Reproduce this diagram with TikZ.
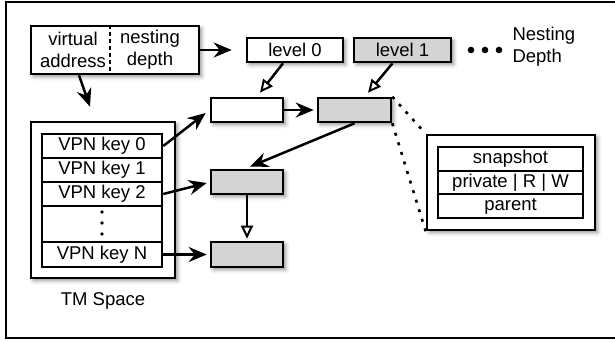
\documentclass[tikz,border=0pt]{standalone}
\usepackage{fontspec}
\setmainfont{Liberation Sans}
\usetikzlibrary{arrows.meta,shadows.blur}

\definecolor{boxgray}{HTML}{D4D4D4}

\tikzset{
  base/.style={draw, line width=2.6pt, inner sep=0pt, rectangle},
  shade/.style={blur shadow={shadow xshift=2.5pt, shadow yshift=-2.5pt,
      shadow blur radius=4pt, shadow opacity=45}},
  box/.style={base, shade, fill=white},
  graybox/.style={base, shade, fill=boxgray},
  cell/.style={base, fill=white},
  link/.style={line width=2.5pt, -{Stealth[length=18pt, width=15pt, inset=6pt]}},
  ptr/.style={line width=2.5pt, -{Triangle[open, length=13pt, width=12pt, line width=2pt]}},
  zoomline/.style={line width=2.6pt, dash pattern=on 3pt off 7pt},
  lbl/.style={font=\fontsize{18.5}{22}\selectfont, align=center},
}

\begin{document}
\begin{tikzpicture}[x=1pt, y=-1pt, lbl]
\useasboundingbox (0,0) rectangle (615,341);
\clip (0,0) rectangle (615,341);

% outer frame
\draw[line width=2.6pt] (6,2) rectangle (630,338);

% address word: virtual address | nesting depth
\node[box, minimum width=168pt, minimum height=48pt] (addr) at (115,50) {};
\draw[line width=2.4pt, dash pattern=on 4pt off 3pt]
  ([xshift=-5pt]addr.north) -- ([xshift=-5pt]addr.south);
\node (va) at (73,50) {virtual\\address};
\node (nd) at (150,50) {nesting\\depth};

% nesting levels
\node[box, minimum width=96pt, minimum height=24pt] (lvl0) at (295,50) {level 0};
\node[graybox, minimum width=97pt, minimum height=24pt] (lvl1) at (402.5,50) {level 1};
\foreach \x in {471,485,499}
  \fill (\x,50) circle (3.3pt);
\node[align=left, anchor=west] (depth) at (509,47) {Nesting\\Depth};

% per-level entries
\node[box, minimum width=72pt, minimum height=24pt] (ea) at (247,110) {};
\node[graybox, minimum width=73pt, minimum height=24pt] (eb) at (354.5,110) {};
\node[graybox, minimum width=72pt, minimum height=24pt] (ec) at (247,182) {};
\node[graybox, minimum width=72pt, minimum height=25pt] (ed) at (247,254.5) {};

% TM space table
\node[box, minimum width=144pt, minimum height=156pt] (tm) at (103,200) {};
\node[cell, minimum width=120pt, minimum height=24pt] (k0) at (102,146) {VPN key 0};
\node[cell, minimum width=120pt, minimum height=24pt] (k1) at (102,170) {VPN key 1};
\node[cell, minimum width=120pt, minimum height=24pt] (k2) at (102,194) {VPN key 2};
\node[cell, minimum width=120pt, minimum height=36pt] (kd) at (102,224) {};
\foreach \y in {212,223,234}
  \fill (102,\y) circle (1.8pt);
\node[cell, minimum width=120pt, minimum height=25pt] (kn) at (102,254.5) {VPN key N};
\node (tml) at (103,301) {TM Space};

% entry detail
\node[box, minimum width=168pt, minimum height=95pt] (det) at (511,182.5) {};
\node[cell, minimum width=145pt, minimum height=24pt] (snap) at (510.5,159) {snapshot};
\node[cell, minimum width=145pt, minimum height=23pt] (prw) at (510.5,182.5) {private | R | W};
\node[cell, minimum width=145pt, minimum height=24pt] (par) at (510.5,206) {parent};

% connectors
\draw[link] (addr.east) -- ([xshift=-14pt]lvl0.west);
\draw[link] ([xshift=-36pt]addr.south) -- ([xshift=-13pt, yshift=14pt]tm.north);
\draw[ptr] ([xshift=-12pt]lvl0.south) -- ([xshift=13pt, yshift=4pt]ea.north);
\draw[ptr] ([xshift=-10pt]lvl1.south) -- ([xshift=13.5pt, yshift=4pt]eb.north);
\draw[link] (ea.east) -- ([xshift=-3pt]eb.west);
\draw[link] (eb.south) -- ([xshift=3pt, yshift=2pt]ec.north);
\draw[ptr] (ec.south) -- ([yshift=2pt]ed.north);
\draw[link] (k0.east) -- ([xshift=-4pt, yshift=-3pt]ea.west);
\draw[link] (k2.east) -- ([xshift=-3pt, yshift=-1pt]ec.west);
\draw[link] (kn.east) -- ([xshift=-3pt]ed.west);
\draw[zoomline] (eb.north east) -- (det.north west);
\draw[zoomline] (eb.south east) -- (det.south west);
\end{tikzpicture}
\end{document}
